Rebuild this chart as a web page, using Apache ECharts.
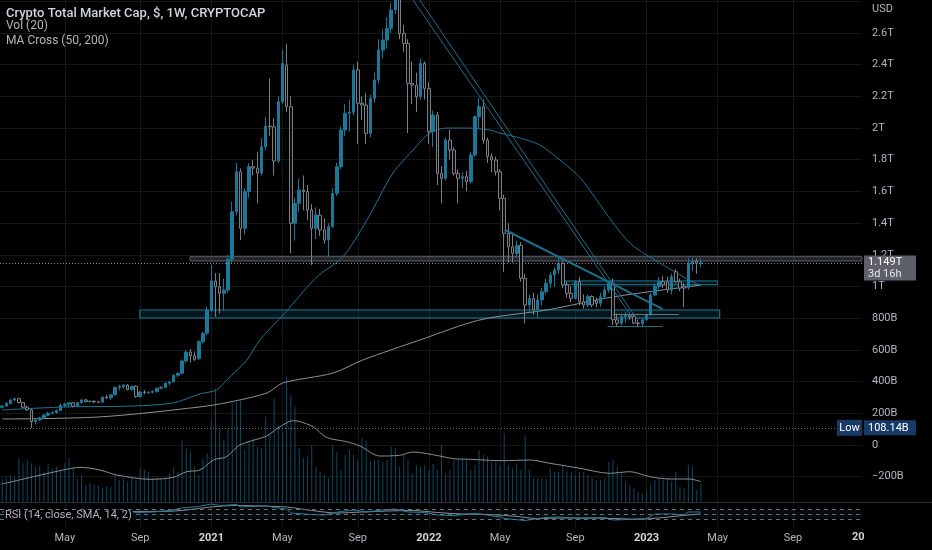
<!DOCTYPE html>
<html><head><meta charset="utf-8">
<script src="https://cdn.jsdelivr.net/npm/echarts@6/dist/echarts.min.js"></script>
<style>html,body{margin:0;padding:0;background:#000;}#c{width:932px;height:550px;}</style>
</head><body><div id="c"></div>
<script>
// ---------------- DATA ----------------
const firstWeek = '2020-01-20';
const weekCount = 206;
// weekly candles [open, close, low, high], billions USD
const ohlc = [
[238,246,230,252],[246,262,240,270],[262,284,256,290],[284,292,276,300],[292,268,262,298],
[268,238,232,272],[238,222,215,248],[222,148,108.14,228],[148,158,130,170],[158,170,152,178],
[170,188,162,195],[188,200,180,210],[200,204,192,212],[204,218,198,224],[218,250,214,262],
[250,257,238,268],[257,266,236,270],[266,244,238,272],[244,266,240,272],[266,284,260,292],
[284,274,268,290],[274,276,266,282],[276,272,264,280],[272,270,264,278],[270,302,268,306],
[302,298,290,316],[298,316,284,320],[316,362,312,368],[362,368,345,380],[368,378,355,382],
[378,350,345,385],[350,370,342,375],[370,306,298,376],[306,334,300,340],[334,330,320,346],
[330,332,322,340],[332,338,326,345],[338,358,330,362],[358,364,350,372],[364,390,355,395],
[390,398,376,404],[398,440,396,446],[440,452,428,460],[452,530,448,540],[530,586,515,600],
[586,562,520,605],[562,540,530,590],[545,652,535,662],[652,705,640,712],[705,850,694,872],
[850,1035,840,1136],[1035,998,810,1085],[998,957,830,1085],[957,978,850,1050],[978,1171,960,1200],
[1171,1472,1150,1535],[1472,1724,1450,1779],[1724,1367,1293,1745],[1367,1600,1330,1620],[1600,1756,1560,1779],
[1756,1747,1700,1800],[1747,1716,1525,1850],[1716,1882,1700,1937],[1882,2013,1860,2071],[2013,2008,1950,2313],
[2008,1792,1700,2060],[1792,2166,1780,2200],[2166,2408,2150,2492],[2398,2135,2100,2530],[2135,1399,1209,2200],
[1399,1525,1290,1560],[1525,1609,1470,1680],[1609,1600,1480,1700],[1600,1483,1420,1640],[1483,1367,1136,1520],
[1367,1451,1300,1500],[1451,1357,1320,1490],[1357,1293,1270,1430],[1293,1378,1188,1400],[1378,1588,1370,1620],
[1588,1756,1570,1780],[1756,1987,1740,2010],[1987,2093,1950,2150],[2093,2100,1980,2180],[2100,2366,2080,2400],
[2366,2156,1900,2420],[2156,2145,2050,2200],[2145,1966,1900,2220],[1966,2187,1940,2210],[2187,2303,2160,2350],
[2303,2492,2280,2560],[2492,2555,2440,2620],[2555,2629,2500,2700],[2629,2745,2600,2790],[2745,2860,2720,3000],
[2860,2597,2560,2900],[2597,2534,2480,2650],[2534,2282,1968,2560],[2282,2271,2150,2420],[2271,2198,2100,2350],
[2198,2408,2180,2440],[2408,2250,2180,2420],[2250,1977,1900,2290],[1977,2082,1880,2110],[2082,1714,1640,2100],
[1714,1683,1525,1760],[1683,1924,1670,1940],[1924,1861,1800,1990],[1861,1714,1700,1880],[1714,1683,1525,1740],
[1683,1693,1620,1720],[1693,1662,1600,1730],[1662,1830,1650,1850],[1830,2072,1820,2080],[2072,2135,2000,2190],
[2135,1924,1900,2180],[1924,1819,1780,1940],[1819,1798,1720,1840],[1798,1724,1700,1820],[1724,1556,1480,1740],
[1556,1335,1093,1580],[1335,1250,1150,1400],[1250,1209,1150,1340],[1209,1260,1180,1290],[1260,1052,1030,1280],
[1052,883,768,1080],[883,925,830,950],[925,852,820,960],[852,915,800,950],[915,967,880,990],
[967,1020,950,1050],[1020,1073,990,1090],[1073,1104,1000,1120],[1104,1146,1080,1188],[1146,1010,990,1160],
[1010,957,930,1030],[957,925,900,1000],[925,1030,920,1040],[1030,904,880,1060],[904,883,860,950],
[883,937,870,950],[937,883,870,945],[910,894,870,930],[894,935,870,960],[935,978,920,1000],
[978,1020,960,1030],[1020,790,757,1050],[790,768,750,830],[768,810,755,830],[810,820,770,840],
[820,810,790,835],[810,770,760,830],[770,765,746,790],[765,790,750,800],[790,820,785,830],
[820,946,815,960],[946,1000,940,1020],[1000,1030,980,1060],[1030,1010,990,1065],[1030,978,960,1060],
[978,1062,950,1080],[1093,1030,1020,1110],[1030,990,970,1050],[1000,990,870,1020],[990,1146,980,1178],
[1146,1160,1100,1180],[1160,1146,1080,1178],[1146,1149,1120,1178]
];
// weekly volume, billions USD
const volume = [
237,253,270,253,437,387,420,387,353,360,303,387,337,353,320,387,437,337,237,270,
170,187,170,160,137,160,153,270,220,237,203,237,220,337,320,303,237,253,237,237,
287,353,303,620,537,503,353,270,437,487,820,1137,737,620,737,987,1003,1020,520,603,
637,553,537,853,670,1037,770,703,1253,1070,953,537,437,453,570,353,303,270,237,570,
503,320,470,520,470,420,637,620,403,420,420,403,420,553,537,353,470,420,287,370,
353,370,320,380,320,570,287,320,420,420,420,420,320,370,520,470,453,403,403,370,
687,370,337,387,320,670,320,237,237,237,237,337,303,303,370,303,303,270,303,303,
270,237,220,220,237,403,420,353,287,203,170,137,103,87,103,170,220,237,220,237,
203,303,153,137,377,353,120,187
];
// Vol (20) moving average, [week index, billions]
const volMA20 = [[0,180],[7.5,253],[15.4,327],[18.6,347],[23.4,320],[27.4,270],[35.3,227],[40.9,247],
[44.1,303],[47.3,320],[50.5,420],[53.6,453],[56.8,570],[63.2,660],[66.4,753],[69.6,813],[71.2,803],
[74.3,753],[77.5,647],[82.3,603],[85.5,560],[90.3,460],[95,467],[98.2,500],[104.6,460],[107.8,433],
[111.8,427],[119.7,413],[126.1,420],[130.9,387],[138.1,337],[145.2,287],[150,303],[154.8,253],
[159.6,230],[164.3,230],[167,203]];
// MA Cross (50, 200), [week index, billions]
const ma50 = [[0,221],[15.5,240],[31.3,246],[40.8,265],[47.3,322],[51.3,347],[53.7,410],[58.5,536],
[61.6,662],[67.6,833],[75.2,1060],[81.4,1186],[87.2,1420],[93.4,1716],[98.2,1861],[102.2,1968],
[106.3,2000],[111,2000],[116.6,1987],[119,1968],[123.7,1937],[128.5,1893],[133.3,1798],[138,1691],
[142.1,1546],[146,1401],[150,1274],[154,1199],[158.8,1123],[162,1073],[165,1028],[167,1009]];
const ma200 = [[0,164],[23.4,177],[47.3,240],[54.4,271],[63.3,328],[67.1,391],[79.1,454],[86.2,536],
[99.8,662],[114.2,789],[130.2,852],[146,934],[167,1009]];
// RSI (14) and its SMA (14)
const rsi = [[0,60],[3,66],[5,58],[7,40],[10,50],[14,58],[18,60],[23,58],[27,68],[30,66],[32,58],[36,60],
[40,66],[43,76],[47,82],[50,92],[52,86],[56,90],[57,80],[63,85],[65,78],[68,72],[69,56],[74,50],[77,48],
[81,62],[84,68],[87,60],[92,70],[94,72],[97,60],[101,58],[104,48],[108,46],[113,55],[115,50],[119,40],
[120,34],[125,26],[130,38],[133,40],[138,34],[144,38],[146,28],[150,30],[154,34],[156,52],[160,52],
[163,48],[164,60],[167,60]];
const rsiMA = [[13,56],[20,58],[30,62],[40,63],[45,70],[50,80],[56,86],[62,84],[68,80],[74,66],[80,56],
[86,60],[92,64],[98,66],[104,58],[110,52],[116,50],[122,44],[128,34],[134,36],[140,36],[146,34],
[152,31],[158,38],[164,48],[167,52]];
const rsiBands = [70, 50, 30];
// time axis labels (first weekly bar of the month)
const timeTicks = [['2020-05-04','May'],['2020-09-07','Sep'],['2021-01-04','2021'],['2021-05-03','May'],
['2021-09-06','Sep'],['2022-01-03','2022'],['2022-05-02','May'],['2022-09-05','Sep'],['2023-01-02','2023'],
['2023-05-01','May'],['2023-09-04','Sep']];
const lastPrice = 1149;
const countdown = '3d 16h';
const lowPrice = 108.14;
// user drawings, [week index, billions]
const grayZones = [[[44.9,1188],[205.5,1161]]];
const tealZones = [[[32.9,852],[171.5,801]], [[133.8,1035],[171.0,1011]]];
const tealLines = [[[98.2,2808],[150.5,808]], [[99.8,2808],[151.8,790]], [[120.1,1358],[157.9,857]], [[144.7,746],[157.9,746]]];
const grayLines = [[[146,826],[161.7,826]]];

// ---------------- CHART ----------------
const weeks = [];
const t0 = Date.parse(firstWeek + 'T00:00:00Z');
for (let i = 0; i < weekCount; i++) weeks.push(new Date(t0 + i * 7 * 86400000).toISOString().slice(0, 10));
const tickMap = Object.fromEntries(timeTicks);
const isTick = (i, v) => tickMap[v] !== undefined;

const FONT = 'Roboto, "Noto Sans", sans-serif';
const GRID = '#161616';
const TEAL = '#1b7898';

function fmtPrice(v) {
  if (v === 0) return '0';
  if (v >= 2700) return '';
  const a = Math.abs(v);
  const s = a >= 1000 ? (+(a / 1000).toFixed(1)) + 'T' : a + 'B';
  return (v < 0 ? '\u2212' : '') + s;
}

const chart = echarts.init(document.getElementById('c'), null, {renderer: 'canvas'});
const option = {
  backgroundColor: '#000',
  animation: false,
  textStyle: {fontFamily: FONT},
  grid: [
    {left: 0, right: 70, top: 0, height: 502, outerBoundsMode: 'none'},
    {left: 0, right: 70, top: 502, height: 25, outerBoundsMode: 'none'}
  ],
  xAxis: [
    {type: 'category', gridIndex: 0, data: weeks, boundaryGap: true,
     axisLine: {show: false}, axisTick: {show: false}, axisLabel: {show: false},
     splitLine: {show: true, interval: isTick, alignWithLabel: true, lineStyle: {color: GRID}}},
    {type: 'value', gridIndex: 0, min: -0.5, max: weekCount - 0.5, show: false},
    {type: 'category', gridIndex: 1, data: weeks, boundaryGap: true,
     axisLine: {show: false}, axisTick: {show: false},
     axisLabel: {interval: isTick, margin: 6, fontSize: 11,
       formatter: v => /^\d{4}$/.test(tickMap[v]) ? '{y|' + tickMap[v] + '}' : '{m|' + tickMap[v] + '}',
       rich: {y: {color: '#d1d4dc', fontWeight: 'bold', fontSize: 11, fontFamily: FONT},
              m: {color: '#b2b5be', fontSize: 11, fontFamily: FONT}}},
     splitLine: {show: true, interval: isTick, alignWithLabel: true, lineStyle: {color: GRID}}},
    {type: 'value', gridIndex: 1, min: -0.5, max: weekCount - 0.5, show: false}
  ],
  yAxis: [
    {type: 'value', gridIndex: 0, position: 'right', min: -360, max: 2808, splitNumber: 16,
     axisLine: {show: false}, axisTick: {show: false},
     axisLabel: {color: '#b2b5be', fontSize: 11, margin: 10, formatter: fmtPrice, showMinLabel: false, showMaxLabel: false},
     splitLine: {show: true, showMinLine: false, showMaxLine: false, lineStyle: {color: GRID}}},
    {type: 'value', gridIndex: 0, min: 0, max: 5020, show: false},
    {type: 'value', gridIndex: 1, min: 0, max: 100, show: false}
  ],
  series: [
    {name: 'Vol', type: 'bar', xAxisIndex: 0, yAxisIndex: 1, data: volume, barWidth: 1,
     itemStyle: {color: '#0c4a61'}, z: 1},
    {name: 'Vol MA', type: 'line', xAxisIndex: 1, yAxisIndex: 1, data: volMA20, smooth: 0.3,
     symbol: 'none', lineStyle: {color: '#8a8d95', width: 1}, z: 2},
    {name: 'MA200', type: 'line', xAxisIndex: 1, yAxisIndex: 0, data: ma200, smooth: 0.3,
     symbol: 'none', lineStyle: {color: '#8f9196', width: 1}, z: 2},
    {name: 'MA50', type: 'line', xAxisIndex: 1, yAxisIndex: 0, data: ma50, smooth: 0.3,
     symbol: 'none', lineStyle: {color: '#1a7593', width: 1}, z: 2},
    {name: 'TOTAL', type: 'candlestick', xAxisIndex: 0, yAxisIndex: 0, data: ohlc, barWidth: 3, clip: true,
     itemStyle: {color: TEAL, borderColor: TEAL, color0: '#0b0b0c', borderColor0: '#7c7f88', borderWidth: 1},
     z: 3,
     markLine: {symbol: ['none', 'none'], silent: true, animation: false,
       data: [
         {yAxis: lastPrice, lineStyle: {type: [1, 2], color: '#8a8d95', width: 1},
          label: {show: true, position: 'end', distance: 2, offset: [0, 5],
            formatter: '{a|' + (lastPrice / 1000).toFixed(3) + 'T}\n{b|' + countdown + '}',
            backgroundColor: '#5d606b', padding: [1, 4, 0, 4], width: 44,
            rich: {a: {color: '#fff', fontSize: 11, lineHeight: 12, fontFamily: FONT},
                   b: {color: '#e6e6e6', fontSize: 11, lineHeight: 12, fontFamily: FONT}}}},
         {yAxis: lowPrice, lineStyle: {type: [1, 2], color: '#6e7079', width: 1},
          label: {show: true, position: 'end', distance: 2, formatter: lowPrice.toFixed(2) + 'B',
            backgroundColor: '#173a66', color: '#fff', fontSize: 11, padding: [2, 4, 2, 4], width: 44}}
       ]}},
    {name: 'Drawings', type: 'line', xAxisIndex: 1, yAxisIndex: 0, data: [[0, null]], symbol: 'none', z: 4,
     lineStyle: {opacity: 0},
     markArea: {silent: true, data: [
       ...grayZones.map(z => [{coord: z[0], itemStyle: {color: 'rgba(120,123,134,0.28)', borderColor: '#5d606b', borderWidth: 1}}, {coord: z[1]}]),
       ...tealZones.map(z => [{coord: z[0], itemStyle: {color: 'rgba(23,105,133,0.22)', borderColor: '#1d7b99', borderWidth: 1}}, {coord: z[1]}])
     ]},
     markLine: {symbol: ['none', 'none'], silent: true, label: {show: false}, data: [
       ...tealLines.map((l, i) => [{coord: l[0], lineStyle: {color: '#1c6f8a', width: i === 2 ? 2 : 1, type: 'solid'}}, {coord: l[1]}]),
       ...grayLines.map(l => [{coord: l[0], lineStyle: {color: '#6e7079', width: 1, type: 'solid'}}, {coord: l[1]}])
     ]}},
    {name: 'RSI', type: 'line', xAxisIndex: 3, yAxisIndex: 2, data: rsi, symbol: 'none',
     lineStyle: {color: '#1f7f9f', width: 1}, z: 3,
     markArea: {silent: true, itemStyle: {color: 'rgba(40,80,110,0.12)'}, data: [[{yAxis: rsiBands[2]}, {yAxis: rsiBands[0]}]]},
     markLine: {symbol: ['none', 'none'], silent: true, label: {show: false},
       lineStyle: {color: '#6a6d75', type: [4, 4], width: 1},
       data: rsiBands.map(b => ({yAxis: b}))}},
    {name: 'RSI MA', type: 'line', xAxisIndex: 3, yAxisIndex: 2, data: rsiMA, smooth: 0.3, symbol: 'none',
     lineStyle: {color: '#8a8d95', width: 1}, z: 2}
  ],
  graphic: [
    {type: 'line', shape: {x1: 0, y1: 502.5, x2: 932, y2: 502.5}, style: {stroke: '#2a2e39', lineWidth: 1}, z: 10},
    {type: 'text', left: 6, top: 7, style: {text: 'Crypto Total Market Cap, $, 1W, CRYPTOCAP', fill: '#d1d4dc', font: '500 13px ' + FONT}, z: 10},
    {type: 'text', left: 6, top: 20, style: {text: 'Vol (20)', fill: '#b2b5be', font: '12px ' + FONT}, z: 10},
    {type: 'text', left: 6, top: 35, style: {text: 'MA Cross (50, 200)', fill: '#b2b5be', font: '12px ' + FONT}, z: 10},
    {type: 'text', left: 872, top: 4, style: {text: 'USD', fill: '#b2b5be', font: '11px ' + FONT}, z: 10},
    {type: 'text', left: 4, top: 510, style: {text: 'RSI (14, close, SMA, 14, 2)', fill: '#b2b5be', font: '11px ' + FONT, backgroundColor: '#000', padding: [0, 1]}, z: 10},
    {type: 'text', left: 852, top: 532, style: {text: '20', fill: '#d1d4dc', font: 'bold 11px ' + FONT}, z: 10}
  ]
};
chart.setOption(option);
const yLow = chart.convertToPixel({yAxisIndex: 0}, lowPrice);
chart.setOption({graphic: [
  {id: 'lowBox', type: 'rect', shape: {x: 837, y: yLow - 8, width: 25, height: 16}, style: {fill: '#173a66'}, z: 11},
  {id: 'lowTxt', type: 'text', x: 849.5, y: yLow, style: {text: 'Low', fill: '#fff', font: '11px ' + FONT, align: 'center', verticalAlign: 'middle'}, z: 12}
]});
</script>
</body></html>
